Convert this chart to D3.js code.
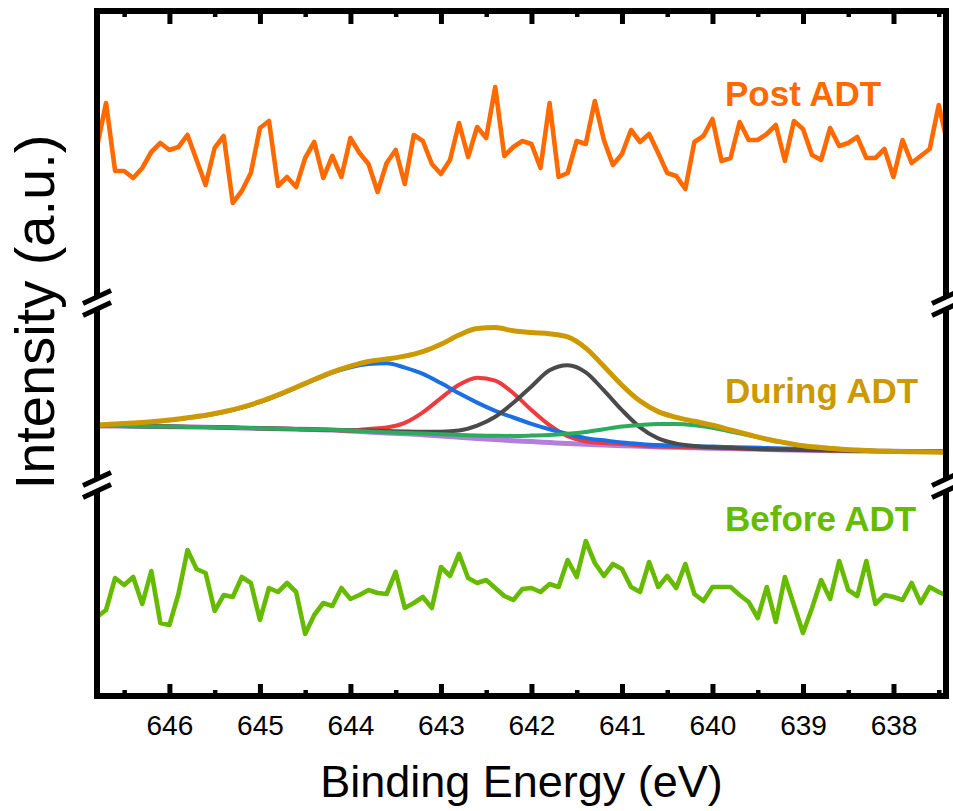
<!DOCTYPE html>
<html>
<head>
<meta charset="utf-8">
<script src="https://cdn.jsdelivr.net/npm/d3@7"></script>
<style>
  html, body { margin: 0; padding: 0; background: #ffffff; }
  svg { display: block; }
</style>
</head>
<body>
<svg id="chart" width="953" height="811"></svg>
<script>
// ---------------- DATA ----------------
// Scan energy grid (binding energy, eV) for the raw spectra
const scanEnergyStart = 646.8;
const scanEnergyStep = 0.1;

// Raw spectra (arbitrary units, offset stacked)
const postADT = [547,591,523,523,516,526,542,551,544,547,
  559,534,509,546,558,491,503,521,566,573,
  508,517,507,536,552,516,538,517,556,541,
  530,502,531,544,510,559,553,530,520,534,
  571,537,567,556,607,538,547,553,550,526,
  591,517,521,553,550,593,554,529,540,564,
  552,560,541,521,518,505,552,558,575,533,
  536,572,554,554,560,569,533,573,565,539,
  534,566,548,551,557,536,536,545,517,554,
  531,538,545,589,549];

const beforeADT = [77,84,116,109,117,90,123,71,69,100,
  144,125,121,83,99,97,117,111,74,106,
  102,111,102,60,79,91,88,106,95,99,
  104,101,100,122,86,91,97,86,127,118,
  140,116,111,114,106,98,94,105,106,102,
  110,107,134,117,153,131,118,130,125,107,
  102,132,107,118,106,130,100,93,107,107,
  107,99,92,76,107,72,117,89,61,86,
  114,95,133,104,98,133,90,99,97,94,
  111,91,107,102,98];

// Fitted "During ADT" curves, sampled every 0.2 eV
const fitEnergyStart = 646.8;
const fitEnergyStep = 0.2;

const duringEnvelope = [269,269.9,271,272.2,274,276.3,278.8,282.2,286.7,292.3,
  299.1,306.7,314.5,321.9,327.8,332.5,335,337.9,342.4,349.7,
  359,365.5,366.4,363.2,361.4,360.2,357.1,345.9,327.7,308.8,
  292.9,282.4,276.7,272.7,268.8,264.1,259.4,254.8,251.4,248.3,
  246.5,244.9,243.9,243.1,242.6,242.2,241.9,241.7];

const fitBackground = [268,267.9,267.7,267.5,267.3,267,266.8,266.4,266,265.6,
  265.2,264.8,264.4,263.9,263,262,261.1,260.2,259.3,258,
  256.8,255.6,254.4,253.3,252.4,251.4,250.4,249.7,249,248.3,
  247.7,247.1,246.7,246.2,245.8,245.4,245,244.5,244.1,243.7,
  243.4,243.2,243,242.8,242.7,242.6,242.5,242.3];

const fitPeakBlue = [268.7,269.6,270.7,271.9,273.7,276,278.5,281.9,286.4,292,
  298.8,306.4,314.1,321.4,326.8,330,330.7,326.4,320.2,310.9,
  300.7,291.4,283.2,276.5,270.2,264.7,260,255.9,253.7,251.6,
  250.1,248.9,248.3,247.8,247.4,246.9,246.4,246,245.5,245.1,
  244.7,244.1,243.6,243.1,242.8,242.6,242.5,242.3];

const fitPeakRed = [268.2,268.1,267.9,267.7,267.5,267.2,267,266.6,266.2,265.8,
  265.4,265,264.6,264.1,263.5,265,266.5,271.2,281.7,295.9,
  309.2,316.3,313.3,300.7,284,268.8,257.7,252.5,251,250,
  248.5,247.4,247,246.5,246.1,245.7,245.3,244.8,244.4,244,
  243.7,243.5,243.3,243.1,243,242.9,242.8,242.6];

const fitPeakGray = [268.1,268,267.8,267.6,267.4,267.1,266.9,266.5,266.1,265.7,
  265.3,264.9,264.5,264,263.7,263.4,263,262.5,262.2,262.3,
  263.5,268.4,277.3,291.2,307.6,323.7,328.8,321.7,303.6,283.9,
  266.7,255.6,250.4,248,246.7,246.1,245.3,244.8,244.4,244,
  243.7,243.5,243.3,243.1,243,242.9,242.8,242.6];

const fitPeakGreen = [268.1,268,267.8,267.6,267.4,267.1,266.9,266.5,266.1,265.7,
  265.3,264.9,264.5,264.2,263.4,262.6,261.8,261.1,260.4,259.7,
  259,258.5,258.2,258.1,258.4,258.9,260.2,262.1,264.8,267.4,
  269,270,270,268.8,266.2,262.5,258.7,255,251.3,248,
  246,244.6,243.7,243.2,242.8,242.7,242.6,242.4];

// Axis ticks and labels
const xMajorTicks = [646,645,644,643,642,641,640,639,638];
const xMinorTicks = [646.5,645.5,644.5,643.5,642.5,641.5,640.5,639.5,638.5,637.5];
const xDomain = [646.8, 637.42];
const yDomain = [0, 683];
const yBreaks = [209, 391];

const seriesLabels = [
  { text: "Post ADT", value: 588, color: "#FF6A00" },
  { text: "During ADT", value: 291, color: "#CC9900" },
  { text: "Before ADT", value: 163, color: "#66BB00" }
];

// ---------------- LAYOUT ----------------
const frame = { left: 97, right: 946, top: 11, bottom: 696 };
const svg = d3.select("#chart");

const x = d3.scaleLinear().domain(xDomain).range([frame.left, frame.right]);
const y = d3.scaleLinear().domain(yDomain).range([694, 11]);

const scanPts = arr => arr.map((v, i) => [scanEnergyStart - i * scanEnergyStep, v]);
const fitPts = arr => arr.map((v, i) => [fitEnergyStart - i * fitEnergyStep, v]);

svg.append("defs").append("clipPath").attr("id", "plotclip")
  .append("rect")
  .attr("x", frame.left).attr("y", frame.top)
  .attr("width", frame.right - frame.left).attr("height", frame.bottom - frame.top);

const plot = svg.append("g").attr("clip-path", "url(#plotclip)");

const lineRaw = d3.line().x(d => x(d[0])).y(d => y(d[1])).curve(d3.curveLinear);
const lineFit = d3.line().x(d => x(d[0])).y(d => y(d[1])).curve(d3.curveMonotoneX);

// Raw spectra
plot.append("path").datum(scanPts(postADT))
  .attr("d", lineRaw).attr("fill", "none")
  .attr("stroke", "#FF6A00").attr("stroke-width", 4.6)
  .attr("stroke-linejoin", "round");

plot.append("path").datum(scanPts(beforeADT))
  .attr("d", lineRaw).attr("fill", "none")
  .attr("stroke", "#66BB00").attr("stroke-width", 4.6)
  .attr("stroke-linejoin", "round");

// Fitted components
const fitSeries = [
  { data: fitBackground, color: "#B07FE0", width: 5 },
  { data: fitPeakRed, color: "#EF3B3F", width: 4 },
  { data: fitPeakBlue, color: "#1B6FE0", width: 4 },
  { data: fitPeakGray, color: "#4A4A4A", width: 4 },
  { data: fitPeakGreen, color: "#2EAA5E", width: 4 },
  { data: duringEnvelope, color: "#CC9900", width: 5 }
];
fitSeries.forEach(s => {
  plot.append("path").datum(fitPts(s.data))
    .attr("d", lineFit).attr("fill", "none")
    .attr("stroke", s.color).attr("stroke-width", s.width)
    .attr("stroke-linejoin", "round").attr("stroke-linecap", "round");
});

// Series labels
svg.selectAll("text.series").data(seriesLabels).enter()
  .append("text").attr("class", "series")
  .attr("x", 725)
  .attr("y", d => y(d.value))
  .attr("font-family", "'Liberation Sans', Arial, sans-serif")
  .attr("font-weight", "bold")
  .attr("font-size", 35)
  .attr("fill", d => d.color)
  .text(d => d.text);

// Frame
svg.append("rect")
  .attr("x", frame.left).attr("y", frame.top)
  .attr("width", frame.right - frame.left).attr("height", frame.bottom - frame.top)
  .attr("fill", "none").attr("stroke", "#000").attr("stroke-width", 6);

// Bottom axis ticks (inward)
const axisBottom = d3.axisBottom(x).tickValues(xMajorTicks).tickSize(-12).tickPadding(0).tickFormat(d3.format("d"));
const gB = svg.append("g").attr("transform", `translate(0,${frame.bottom})`).call(axisBottom);
gB.select(".domain").remove();
gB.selectAll(".tick line").attr("stroke", "#000").attr("stroke-width", 5);
gB.selectAll(".tick text").attr("font-family", "'Liberation Sans', Arial, sans-serif")
  .attr("font-size", 28).attr("fill", "#000").attr("dy", 0).attr("y", 39);

const gBm = svg.append("g").attr("transform", `translate(0,${frame.bottom})`)
  .call(d3.axisBottom(x).tickValues(xMinorTicks.filter(v => v > xDomain[1])).tickSize(-6).tickFormat(""));
gBm.select(".domain").remove();
gBm.selectAll(".tick line").attr("stroke", "#000").attr("stroke-width", 4.5);

// Top axis ticks (inward)
const gT = svg.append("g").attr("transform", `translate(0,${frame.top})`)
  .call(d3.axisTop(x).tickValues(xMajorTicks).tickSize(-13).tickFormat(""));
gT.select(".domain").remove();
gT.selectAll(".tick line").attr("stroke", "#000").attr("stroke-width", 5);
const gTm = svg.append("g").attr("transform", `translate(0,${frame.top})`)
  .call(d3.axisTop(x).tickValues(xMinorTicks.filter(v => v > xDomain[1])).tickSize(-6).tickFormat(""));
gTm.select(".domain").remove();
gTm.selectAll(".tick line").attr("stroke", "#000").attr("stroke-width", 4.5);

// Axis breaks on both vertical axes
[frame.left, frame.right].forEach(ax => {
  yBreaks.forEach(bv => {
    const cy = y(bv);
    const g = svg.append("g");
    g.append("rect").attr("x", ax - 5).attr("y", cy - 6).attr("width", 10).attr("height", 12).attr("fill", "#fff");
    [-6, 6].forEach(off => {
      g.append("line")
        .attr("x1", ax - 14).attr("y1", cy + off + 6.5)
        .attr("x2", ax + 14).attr("y2", cy + off - 6.5)
        .attr("stroke", "#000").attr("stroke-width", 5);
    });
  });
});

// Axis titles
svg.append("text")
  .attr("x", (frame.left + frame.right) / 2).attr("y", 797)
  .attr("text-anchor", "middle")
  .attr("font-family", "'Liberation Sans', Arial, sans-serif")
  .attr("font-size", 45).attr("fill", "#000")
  .text("Binding Energy (eV)");

svg.append("text")
  .attr("transform", "translate(54,312) rotate(-90)")
  .attr("text-anchor", "middle")
  .attr("font-family", "'Liberation Sans', Arial, sans-serif")
  .attr("font-size", 56).attr("fill", "#000")
  .text("Intensity (a.u.)");
</script>
</body>
</html>
